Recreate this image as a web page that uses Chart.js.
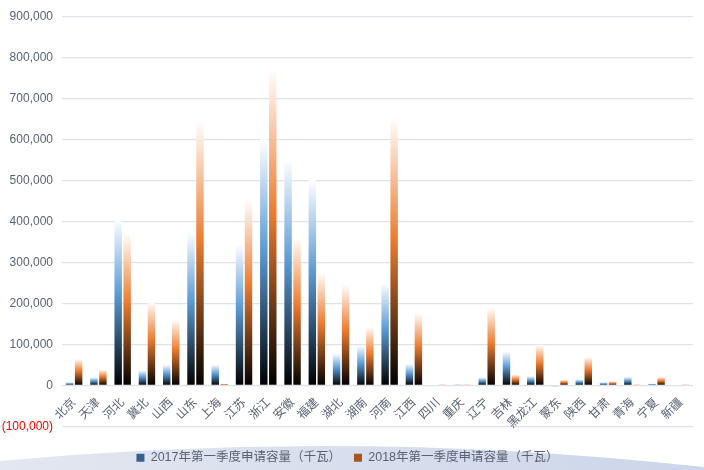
<!DOCTYPE html>
<html>
<head>
<meta charset="utf-8">
<script src="https://cdn.jsdelivr.net/npm/chart.js@4/dist/chart.umd.min.js"></script>
<style>
  html, body { margin: 0; padding: 0; background: #fff; }
  #wrap { width: 704px; height: 470px; }
</style>
</head>
<body>
<div id="wrap"><canvas id="chart" width="704" height="470"></canvas></div>
<script>
// data
const provinces = ["北京", "天津", "河北", "冀北", "山西", "山东", "上海", "江苏", "浙江", "安徽", "福建", "湖北", "湖南",
  "河南", "江西", "四川", "重庆", "辽宁", "吉林", "黑龙江", "蒙东", "陕西", "甘肃", "青海", "宁夏", "新疆"];
const q1_2017 = [8000, 20000, 406000, 37000, 51000, 375000, 51000, 345000, 600000, 551000, 502000, 78000, 97000,
  250000, 53000, 0, 3000, 20000, 83000, 23000, -3000, 15000, 8000, 21000, 5000, 0];
const q1_2018 = [65000, 39000, 371000, 205000, 161000, 646000, 5000, 452000, 772000, 361000, 276000, 246000, 143000,
  654000, 176000, 3000, 3000, 190000, 27000, 99000, 14000, 70000, 10000, 3000, 21000, 3000];
const seriesNames = ["2017年第一季度申请容量（千瓦）", "2018年第一季度申请容量（千瓦）"];
const yTicks = { min: -100000, max: 900000, step: 100000 };

const FONT = "'Liberation Sans', 'Noto Sans CJK SC', sans-serif";
const TEXT = "#5a6272";
const swatch = ["#36618c", "#a8561f"];

// each bar: black at its base, full colour in the middle, white at the top
function barGradient(ctx, mid, flat) {
  const chart = ctx.chart;
  if (!chart.chartArea || ctx.type !== "data" || !ctx.parsed) return flat;
  const y = chart.scales.y;
  const base = y.getPixelForValue(0);
  const top = y.getPixelForValue(ctx.parsed.y);
  if (Math.abs(base - top) < 0.5) return mid;
  const g = chart.ctx.createLinearGradient(0, base, 0, top);
  g.addColorStop(0, "#000000");
  g.addColorStop(0.55, mid);
  g.addColorStop(1, "#ffffff");
  return g;
}

function fmt(v) {
  const s = Math.abs(v).toLocaleString("en-US");
  return v < 0 ? "(" + s + ")" : s;
}

const backdrop = {
  id: "backdrop",
  afterLayout(chart) {
    // push the legend down onto the band, keep the plot where it is
    chart.legend.top += 12;
    chart.legend.bottom += 12;
  },
  beforeDraw(chart) {
    const c = chart.ctx;
    const w = chart.width, h = chart.height;
    c.save();
    c.fillStyle = "#ffffff";
    c.fillRect(0, 0, w, h);
    const g = c.createLinearGradient(0, 0, w, 0);
    g.addColorStop(0, "#e3e7f0");
    g.addColorStop(1, "#ccd5ea");
    c.fillStyle = g;
    c.beginPath();
    c.moveTo(0, h - 9);
    c.quadraticCurveTo(w * 0.5, h - 42, w, h - 3);
    c.lineTo(w, h);
    c.lineTo(0, h);
    c.closePath();
    c.fill();
    c.restore();
  }
};

new Chart(document.getElementById("chart"), {
  type: "bar",
  data: {
    labels: provinces,
    datasets: [
      {
        label: seriesNames[0],
        data: q1_2017,
        backgroundColor: (ctx) => barGradient(ctx, "#5b9bd5", swatch[0]),
        categoryPercentage: 0.74,
        barPercentage: 0.83,
      },
      {
        label: seriesNames[1],
        data: q1_2018,
        backgroundColor: (ctx) => barGradient(ctx, "#ed7d31", swatch[1]),
        categoryPercentage: 0.74,
        barPercentage: 0.83,
      },
    ],
  },
  options: {
    responsive: false,
    animation: false,
    layout: { padding: { top: 7, right: 11, left: 2, bottom: 8 } },
    plugins: {
      tooltip: { enabled: false },
      legend: {
        position: "bottom",
        labels: {
          boxWidth: 8,
          boxHeight: 8,
          padding: 13,
          color: TEXT,
          font: { family: FONT, size: 12.5 },
          generateLabels: (chart) =>
            chart.data.datasets.map((ds, i) => ({
              text: ds.label,
              fillStyle: swatch[i],
              strokeStyle: swatch[i],
              lineWidth: 0,
              fontColor: TEXT,
              hidden: false,
              datasetIndex: i,
            })),
        },
      },
    },
    scales: {
      x: {
        position: { y: 0 },
        grid: { display: false },
        border: { display: false },
        afterFit: (scale) => {
          scale.paddingLeft = 0;
          scale.paddingRight = 0;
        },
        ticks: {
          autoSkip: false,
          minRotation: 45,
          maxRotation: 45,
          padding: 2,
          color: TEXT,
          font: { family: FONT, size: 12 },
        },
      },
      y: {
        min: yTicks.min,
        max: yTicks.max,
        border: { display: false },
        grid: { color: "#dfe2e8", lineWidth: 1.3, drawTicks: false },
        afterFit: (scale) => {
          scale.width = 60;
        },
        ticks: {
          stepSize: yTicks.step,
          padding: 9,
          color: (ctx) => (ctx.tick && ctx.tick.value < 0 ? "#ff0000" : TEXT),
          font: { family: FONT, size: 12 },
          callback: (v) => fmt(v),
        },
      },
    },
  },
  plugins: [backdrop],
});
</script>
</body>
</html>
